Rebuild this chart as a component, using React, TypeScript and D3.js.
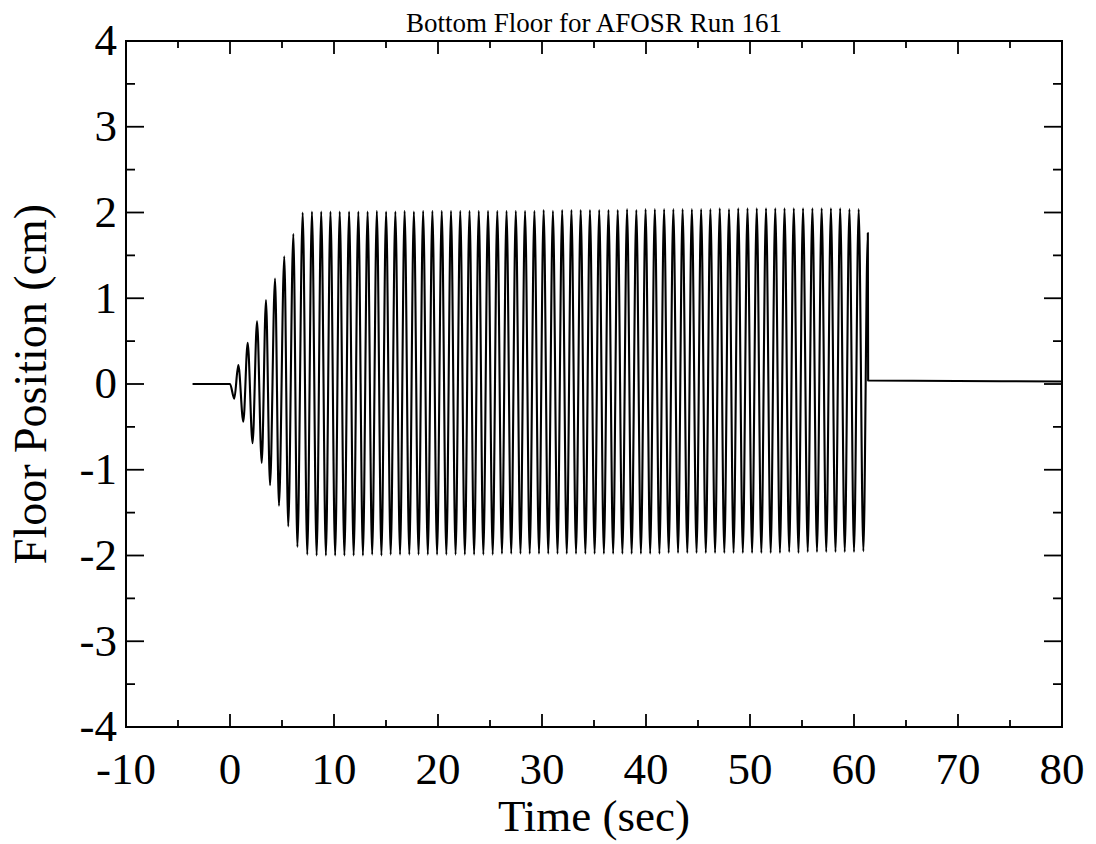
import * as d3 from "d3";

// start-up: flat line, then growing oscillation
const rampTimes = [-3.6, 0.0, 0.41, 0.8, 1.28, 1.7, 2.17, 2.6, 3.05, 3.46, 3.85, 4.33, 4.71, 5.22, 5.6, 6.09, 6.48];
const rampValues = [0, 0, -0.17, 0.22, -0.44, 0.48, -0.69, 0.73, -0.92, 0.98, -1.18, 1.23, -1.42, 1.49, -1.66, 1.75, -1.9];

// steady peaks
const peakTimes = [
  6.99, 7.88, 8.77, 9.66, 10.55, 11.45, 12.34, 13.23, 14.12, 15.01,
  15.9, 16.79, 17.68, 18.57, 19.46, 20.36, 21.25, 22.14, 23.03, 23.92,
  24.81, 25.7, 26.59, 27.48, 28.37, 29.27, 30.16, 31.05, 31.94, 32.83,
  33.72, 34.61, 35.5, 36.39, 37.28, 38.18, 39.07, 39.96, 40.85, 41.74,
  42.63, 43.52, 44.41, 45.3, 46.19, 47.09, 47.98, 48.87, 49.76, 50.65,
  51.54, 52.43, 53.32, 54.21, 55.1, 56.0, 56.89, 57.78, 58.67, 59.56,
  60.45,
];
const peakValues = [
  2.0, 2.01, 2.01, 2.01, 2.01, 2.01, 2.01, 2.01, 2.02, 2.01,
  2.01, 2.02, 2.01, 2.02, 2.02, 2.02, 2.02, 2.02, 2.02, 2.02,
  2.02, 2.02, 2.02, 2.02, 2.02, 2.02, 2.03, 2.02, 2.03, 2.03,
  2.03, 2.03, 2.03, 2.03, 2.03, 2.04, 2.03, 2.04, 2.04, 2.04,
  2.04, 2.04, 2.04, 2.04, 2.04, 2.05, 2.04, 2.05, 2.05, 2.05,
  2.05, 2.05, 2.05, 2.05, 2.05, 2.05, 2.05, 2.05, 2.05, 2.04,
  2.04,
];

// steady troughs
const troughTimes = [
  7.43, 8.33, 9.22, 10.11, 11.0, 11.89, 12.78, 13.67, 14.56, 15.45,
  16.35, 17.24, 18.13, 19.02, 19.91, 20.8, 21.69, 22.58, 23.47, 24.36,
  25.26, 26.15, 27.04, 27.93, 28.82, 29.71, 30.6, 31.49, 32.38, 33.27,
  34.17, 35.06, 35.95, 36.84, 37.73, 38.62, 39.51, 40.4, 41.29, 42.18,
  43.08, 43.97, 44.86, 45.75, 46.64, 47.53, 48.42, 49.31, 50.2, 51.09,
  51.99, 52.88, 53.77, 54.66, 55.55, 56.44, 57.33, 58.22, 59.11, 60.0,
  60.9,
];
const troughValues = [
  -1.99, -2.0, -2.0, -2.0, -2.0, -2.0, -2.0, -1.99, -2.0, -1.99,
  -1.99, -1.99, -1.99, -1.99, -1.99, -1.99, -1.99, -1.99, -1.99, -1.99,
  -1.99, -1.98, -1.98, -1.98, -1.98, -1.98, -1.98, -1.98, -1.98, -1.98,
  -1.98, -1.98, -1.98, -1.98, -1.98, -1.98, -1.98, -1.98, -1.98, -1.97,
  -1.97, -1.97, -1.97, -1.97, -1.97, -1.97, -1.97, -1.97, -1.97, -1.97,
  -1.97, -1.97, -1.96, -1.97, -1.96, -1.96, -1.96, -1.96, -1.96, -1.96,
  -1.95,
];

// last half swing, drop and resting level
const tailTimes = [61.33, 61.36, 80];
const tailValues = [1.76, 0.04, 0.03];

const xTicks = [-10, 0, 10, 20, 30, 40, 50, 60, 70, 80];
const yTicks = [-4, -3, -2, -1, 0, 1, 2, 3, 4];

const title = "Bottom Floor for AFOSR Run 161";
const xLabel = "Time (sec)";
const yLabel = "Floor Position (cm)";

const zip = (ts: number[], vs: number[]) => ts.map((t, i) => ({ t, v: vs[i] }));

export default function App() {
  const width = 1096;
  const height = 844;
  const left = 126, right = 1062, top = 41, bottom = 727;

  const x = d3.scaleLinear().domain([-10, 80]).range([left, right]);
  const y = d3.scaleLinear().domain([-4, 4]).range([bottom, top]);

  const points = [
    ...zip(rampTimes, rampValues),
    ...zip(peakTimes, peakValues),
    ...zip(troughTimes, troughValues),
    ...zip(tailTimes, tailValues),
  ].sort((a, b) => a.t - b.t);

  const line = d3.line<{ t: number; v: number }>()
    .x(d => x(d.t))
    .y(d => y(d.v))
    .curve(d3.curveMonotoneX);

  const xMinor = d3.range(-10, 80.1, 5);
  const yMinor = d3.range(-4, 4.01, 0.5);
  const font = "'Liberation Serif', 'Times New Roman', serif";

  return (
    <svg
      width={width}
      height={height}
      style={{ position: "absolute", left: 0, top: 0, background: "#fff" }}
      fontFamily={font}
    >
      <text x={(left + right) / 2} y={32} fontSize={27} textAnchor="middle">{title}</text>

      {/* frame */}
      <rect x={left} y={top} width={right - left} height={bottom - top} fill="none" stroke="#000" strokeWidth={2} />

      {/* x ticks, bottom and top, pointing inward */}
      {xMinor.map((d, i) => {
        const major = Math.abs(d % 10) < 1e-6;
        const len = major ? 13 : 7;
        return (
          <g key={i}>
            <line x1={x(d)} x2={x(d)} y1={bottom} y2={bottom - len} stroke="#000" strokeWidth={1.8} />
            <line x1={x(d)} x2={x(d)} y1={top} y2={top + len} stroke="#000" strokeWidth={1.8} />
          </g>
        );
      })}

      {/* y ticks, left and right */}
      {yMinor.map((d, i) => {
        const major = Math.abs(d % 1) < 1e-6;
        const len = major ? 18 : 9;
        return (
          <g key={i}>
            <line x1={left} x2={left + len} y1={y(d)} y2={y(d)} stroke="#000" strokeWidth={1.8} />
            <line x1={right} x2={right - len} y1={y(d)} y2={y(d)} stroke="#000" strokeWidth={1.8} />
          </g>
        );
      })}

      {xTicks.map(d => (
        <text key={d} x={x(d)} y={784} fontSize={45} textAnchor="middle">{d}</text>
      ))}
      {yTicks.map(d => (
        <text key={d} x={117} y={y(d)} dy="0.32em" fontSize={45} textAnchor="end">{d}</text>
      ))}

      <text x={(left + right) / 2} y={831} fontSize={45} textAnchor="middle">{xLabel}</text>
      <text
        transform={`translate(46,${(top + bottom) / 2}) rotate(-90)`}
        fontSize={46}
        textAnchor="middle"
      >
        {yLabel}
      </text>

      <path d={line(points) ?? ""} fill="none" stroke="#000" strokeWidth={2.1} strokeLinejoin="round" />
    </svg>
  );
}
